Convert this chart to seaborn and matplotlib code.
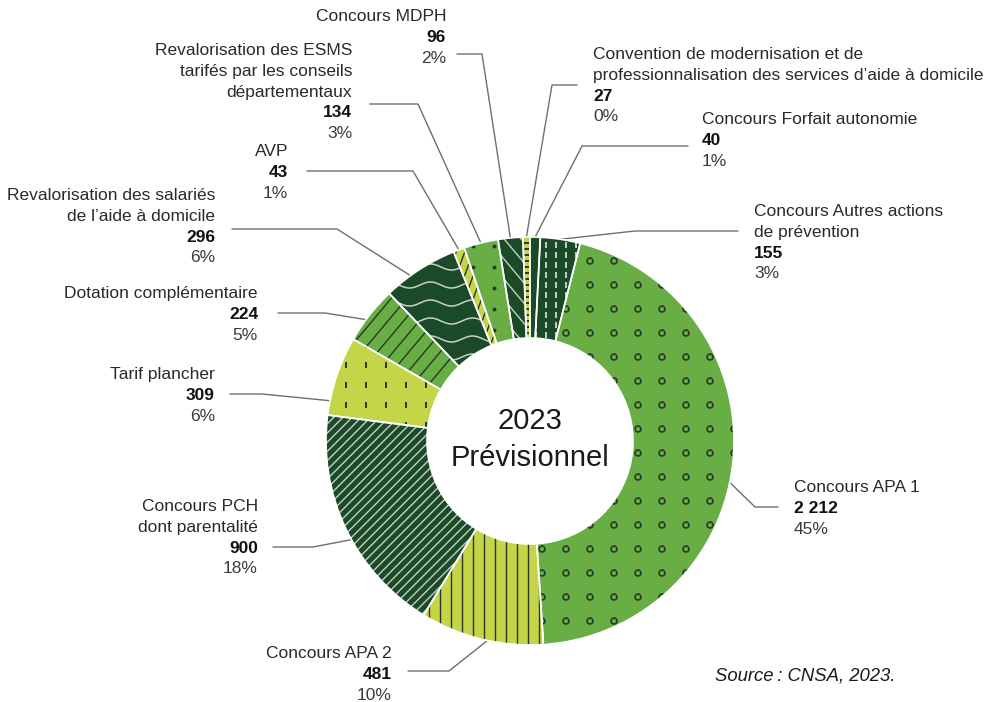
import matplotlib.pyplot as plt
import numpy as np
import seaborn as sns
from matplotlib.collections import LineCollection

# Slices, clockwise from the top of the ring
CATEGORIES = [
    "Convention de modernisation et de\nprofessionnalisation des services d’aide à domicile",
    "Concours Forfait autonomie",
    "Concours Autres actions\nde prévention",
    "Concours APA 1",
    "Concours APA 2",
    "Concours PCH\ndont parentalité",
    "Tarif plancher",
    "Dotation complémentaire",
    "Revalorisation des salariés\nde l’aide à domicile",
    "AVP",
    "Revalorisation des ESMS\ntarifés par les conseils\ndépartementaux",
    "Concours MDPH",
]
AMOUNTS = [27, 40, 155, 2212, 481, 900, 309, 224, 296, 43, 134, 96]
AMOUNT_LABELS = ["27", "40", "155", "2 212", "481", "900", "309", "224", "296", "43", "134", "96"]
SHARE_LABELS = ["0%", "1%", "3%", "45%", "10%", "18%", "6%", "5%", "6%", "1%", "3%", "2%"]

DARK, MID, YELLOW = "#1a4a28", "#68ae45", "#c4d548"
INK, LIGHT = "#2b3626", "#c6d0c3"
SLICE_COLORS = [YELLOW, DARK, DARK, MID, YELLOW, DARK, YELLOW, MID, DARK, YELLOW, MID, DARK]

# texture drawn inside each slice: (kind, colour, spacing, angle)
TEXTURES = [
    ("hdash", INK, 6, 0),
    (None, None, 0, 0),
    ("vdash", LIGHT, 10, 0),
    ("circles", INK, 24, 0),
    ("lines", INK, 11, 90),
    ("lines", LIGHT, 6.5, 45),
    ("vdash", INK, 20, 0),
    ("lines", INK, 12, 50),
    ("waves", LIGHT, 18, 0),
    ("lines", INK, 8, 70),
    ("dots", INK, 21, 0),
    ("lines", LIGHT, 13, -50),
]

W, H = 1001, 702
CX, CY, R, R_IN = 530, H - 441, 204, 103

# label layout in picture pixels (y from top):
# text x, first line y, alignment, line start, elbow, position inside slice
LABELS = [
    (593, 53, "left", (577, 85), (552, 85), 0.5),
    (702, 118, "left", (688, 146), (582, 146), 0.5),
    (754, 210, "left", (738, 231), (635, 231), 0.5),
    (794, 486, "left", (778, 507), (755, 507), 0.54),
    (392, 652, "right", (408, 671), (449, 671), 0.45),
    (258, 505, "right", (273, 547), (313, 547), 0.45),
    (215, 373, "right", (230, 394), (262, 394), 0.18),
    (258, 292, "right", (278, 313), (325, 313), 0.4),
    (215, 194, "right", (232, 229), (337, 229), 0.36),
    (288, 150, "right", (307, 171), (413, 171), 0.5),
    (352, 49, "right", (370, 104), (418, 104), 0.5),
    (446, 15, "right", (457, 54), (482, 54), 0.5),
]
LINE_STEP = 20.8


def flip(y):
    return H - y


def add_texture(ax, wedge, kind, color, step, angle):
    if kind is None:
        return
    xs = np.arange(CX - R, CX + R + step, step)
    ys = np.arange(CY - R, CY + R + step, step)
    gx, gy = np.meshgrid(xs, ys)
    gx, gy = gx.ravel(), gy.ravel()
    art = None
    if kind == "circles":
        art = ax.scatter(gx, gy, s=18, marker="o", facecolors="none",
                         edgecolors=color, linewidths=1.2, zorder=2)
    elif kind == "dots":
        art = ax.scatter(gx, gy, s=8, marker="o", color=color,
                         linewidths=0, zorder=2)
    elif kind == "vdash":
        art = ax.scatter(gx, gy, s=14, marker="|", color=color,
                         linewidths=1.4, zorder=2)
    elif kind == "hdash":
        art = ax.scatter(gx, gy, s=14, marker="_", color=color,
                         linewidths=1.2, zorder=2)
    elif kind == "lines":
        a = np.deg2rad(angle)
        d = np.array([np.cos(a), np.sin(a)])
        n = np.array([-np.sin(a), np.cos(a)])
        segs = []
        for k in np.arange(-R * 1.5, R * 1.5, step):
            base = np.array([CX, CY]) + n * k
            segs.append([base - d * R * 1.6, base + d * R * 1.6])
        art = LineCollection(segs, colors=color, linewidths=1.0, zorder=2)
        ax.add_collection(art)
    elif kind == "waves":
        x = np.linspace(CX - R, CX + R, 400)
        segs = [np.column_stack([x, y0 + 3.0 * np.sin(2 * np.pi * x / 42)])
                for y0 in ys]
        art = LineCollection(segs, colors=color, linewidths=1.1, zorder=2)
        ax.add_collection(art)
    art.set_clip_path(wedge)


sns.set_theme(style="white")
plt.rcParams["font.family"] = ["Liberation Sans", "DejaVu Sans"]

fig = plt.figure(figsize=(W / 100, H / 100), dpi=100)
ax = fig.add_axes([0, 0, 1, 1])

palette = sns.color_palette(SLICE_COLORS)
wedges, _ = ax.pie(
    AMOUNTS, colors=palette, startangle=92, counterclock=False,
    center=(CX, CY), radius=R,
    wedgeprops=dict(width=R - R_IN, linewidth=0, zorder=1),
)
for wedge, (kind, color, step, angle) in zip(wedges, TEXTURES):
    add_texture(ax, wedge, kind, color, step, angle)

# white separators between slices
ax.pie(
    AMOUNTS, colors=["none"] * len(AMOUNTS), startangle=92, counterclock=False,
    center=(CX, CY), radius=R,
    wedgeprops=dict(width=R - R_IN, linewidth=1.2, edgecolor="white", zorder=3),
)

for i, wedge in enumerate(wedges):
    tx, ty, ha, start, elbow, frac = LABELS[i]
    lines = CATEGORIES[i].split("\n")
    y = ty
    for line in lines:
        ax.text(tx, flip(y + 6), line, ha=ha, va="baseline", fontsize=12.5,
                color="#2a2a2a")
        y += LINE_STEP
    ax.text(tx, flip(y + 6), AMOUNT_LABELS[i], ha=ha, va="baseline",
            fontsize=12.5, fontweight="bold", color="#111111")
    y += LINE_STEP
    ax.text(tx, flip(y + 6), SHARE_LABELS[i], ha=ha, va="baseline",
            fontsize=12.5, color="#3a3a3a")

    theta = np.deg2rad(wedge.theta2 + (wedge.theta1 - wedge.theta2) * frac)
    end = (CX + R * np.cos(theta), CY + R * np.sin(theta))
    ax.plot([start[0], elbow[0], end[0]],
            [flip(start[1]), flip(elbow[1]), end[1]],
            color="#6e6e6e", linewidth=1.0, zorder=0)

ax.text(CX, flip(421), "2023", ha="center", va="center", fontsize=21,
        color="#1a1a1a")
ax.text(CX, flip(458), "Prévisionnel", ha="center", va="center", fontsize=21,
        color="#1a1a1a")

ax.text(895, flip(676), "Source\u2009: CNSA, 2023.", ha="right", va="center",
        fontsize=13.3, style="italic", color="#1a1a1a")

ax.set_xlim(0, W)
ax.set_ylim(0, H)
ax.set_aspect("equal")
ax.axis("off")

plt.savefig("out.png", dpi=100, facecolor="white")
